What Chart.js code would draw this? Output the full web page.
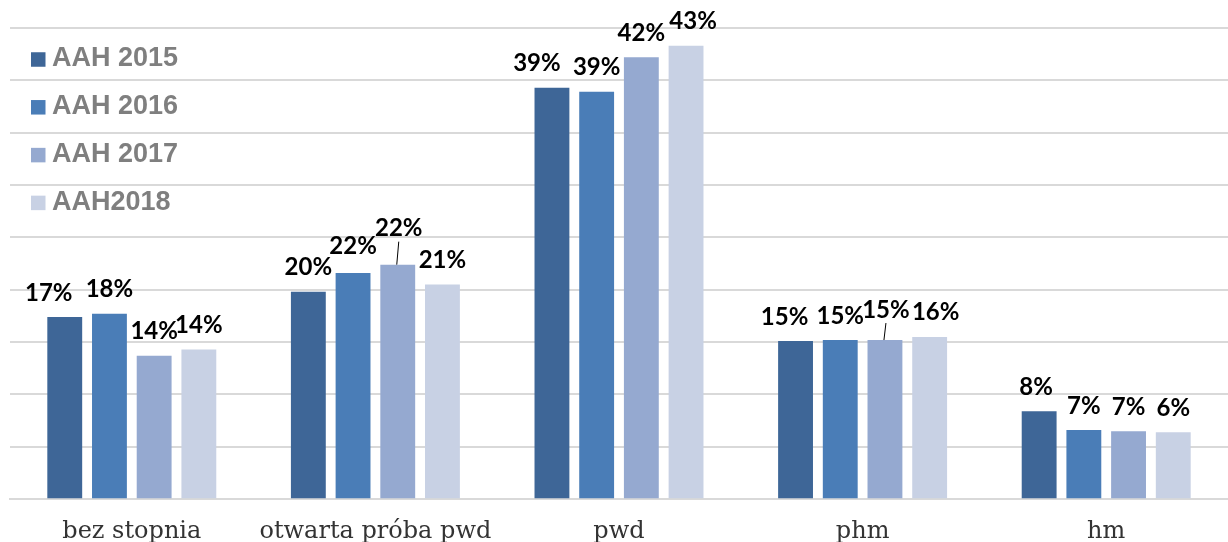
<!DOCTYPE html>
<html>
<head>
<meta charset="utf-8">
<script src="https://cdn.jsdelivr.net/npm/chart.js@4.4.1/dist/chart.umd.min.js"></script>
<style>
  html, body { margin: 0; padding: 0; background: #fff; overflow: hidden; }
  #wrap { position: relative; width: 1228px; height: 570px; }
</style>
</head>
<body>
<div id="wrap"><canvas id="grafico"></canvas></div>
<script>
// stopnie
var kategorie = ['bez stopnia', 'otwarta próba pwd', 'pwd', 'phm', 'hm'];
var serie = ['AAH 2015', 'AAH 2016', 'AAH 2017', 'AAH2018'];

// udział w % dla kolejnych lat
var aah2015 = [17.4, 19.8, 39.3, 15.1, 8.4];
var aah2016 = [17.7, 21.6, 38.9, 15.2, 6.6];
var aah2017 = [13.7, 22.4, 42.2, 15.2, 6.5];
var aah2018 = [14.3, 20.5, 43.3, 15.5, 6.4];

var kolory = ['#3e6697', '#4a7db7', '#95a9d0', '#c8d1e4'];

// przesunięcia etykiet, które w oryginale zostały odsunięte ręcznie
var przesuniecia = {
    '0-0': { dx: -16, dy: 0 },
    '0-2': { dx: -15, dy: 0 },
    '3-2': { dx: 7, dy: 0 },
    '0-3': { dx: -11, dy: 0 },
    '3-3': { dx: 6, dy: 0 },
    '1-1': { dx: 0, dy: -3 },
    '2-1': { dx: 1, dy: -12, linia: true },
    '2-3': { dx: 1, dy: -6, linia: true },
    '0-4': { dx: -3, dy: 0 }
};

var etykiety = {
    id: 'etykiety',
    afterDatasetsDraw: function(chart){
        let ctx = chart.ctx;
        ctx.save();
        ctx.font = 'bold 24px Lato';
        ctx.fillStyle = '#000';
        ctx.textAlign = 'center';
        ctx.textBaseline = 'alphabetic';
        chart.data.datasets.forEach(function(ds, i){
            chart.getDatasetMeta(i).data.forEach(function(bar, j){
                let p = przesuniecia[i + '-' + j] || { dx: 0, dy: 0 };
                let cx = bar.x + p.dx;
                let cy = bar.y - 25 + p.dy;
                ctx.fillText(Math.round(ds.data[j]) + '%', cx, cy + 8.5);
                if(p.linia){
                    ctx.strokeStyle = '#000';
                    ctx.lineWidth = 1;
                    ctx.beginPath();
                    ctx.moveTo(cx, cy + 14);
                    ctx.lineTo(bar.x - 1, bar.y);
                    ctx.stroke();
                }
            });
        });
        ctx.restore();
    }
};

// legenda rysowana wewnątrz obszaru wykresu, po lewej u góry
var legenda = {
    id: 'legenda',
    afterDraw: function(chart){
        let ctx = chart.ctx;
        ctx.save();
        ctx.font = 'bold 27px "Liberation Sans"';
        ctx.textBaseline = 'middle';
        ctx.textAlign = 'left';
        chart.data.datasets.forEach(function(ds, i){
            let y = 59.5 + i * 47.8;
            ctx.fillStyle = ds.backgroundColor;
            ctx.fillRect(31, y - 7.25, 14.5, 14.5);
            ctx.fillStyle = '#7f7f7f';
            ctx.fillText(ds.label, 52, y - 0.5);
        });
        ctx.restore();
    }
};

var dane = {
    labels: kategorie,
    datasets: [aah2015, aah2016, aah2017, aah2018].map(function(v, i){
        return {
            label: serie[i],
            data: v,
            backgroundColor: kolory[i],
            barPercentage: 0.78,
            categoryPercentage: 0.734
        };
    })
};

new Chart(document.getElementById('grafico'), {
    type: 'bar',
    data: dane,
    options: {
        responsive: true,
        maintainAspectRatio: false,
        animation: false,
        layout: { padding: { top: 28, left: 10, right: 0, bottom: 6 } },
        plugins: {
            legend: { display: false },
            tooltip: { enabled: false },
            title: { display: false }
        },
        scales: {
            x: {
                grid: { display: false, drawTicks: false },
                border: { color: '#d9d9d9', width: 2 },
                ticks: {
                    color: '#333333',
                    font: { family: 'DejaVu Serif', size: 24 },
                    padding: 18
                }
            },
            y: {
                min: 0,
                max: 45,
                grid: { color: '#d9d9d9', lineWidth: 2, drawTicks: false },
                border: { display: false },
                ticks: { stepSize: 5, display: false }
            }
        }
    },
    plugins: [etykiety, legenda]
});
</script>
</body>
</html>
